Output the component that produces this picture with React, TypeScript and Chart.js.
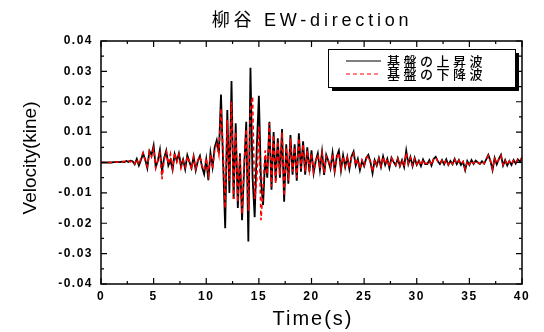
import React, { useEffect, useRef } from 'react';
import { Chart, registerables } from 'chart.js';

Chart.register(...registerables);

const TITLE = '柳谷 EW-direction';
const X_TITLE = 'Time(s)';
const Y_TITLE = 'Velocity(kine)';
const LEGEND_LABELS = ['基盤の上昇波', '基盤の下降波'];

const X_TICKS = [0, 5, 10, 15, 20, 25, 30, 35, 40];
const Y_TICKS = [-0.04, -0.03, -0.02, -0.01, 0, 0.01, 0.02, 0.03, 0.04];
const Y_TICK_LABELS = ['-0.04', '-0.03', '-0.02', '-0.01', '0.00', '0.01', '0.02', '0.03', '0.04'];

// sampling step of the digitised records (s); values are in 1/1000 kine
const DT = 0.2;
const UNIT = 0.001;

// 基盤の上昇波 (black, solid)
const UPWARD = [
  0, 0, 0, 0, 0,
  0, 0.1, 0.1, 0.2, 0.1,
  0.3, 0.1, 0.5, 0.2, 0.6,
  0.4, -0.6, 1.2, -1.0, 0.8,
  3.0, 1.0, -1.8, 3.8, 2.5,
  5.6, -1.5, 0.5, 4.2, -2.8,
  1.5, 3.9, -1.0, 0.8, -2.4,
  2.8, 0.5, 3.0, -1.2, 1.0,
  -2.2, 2.4, 0.2, -1.8, 2.0,
  -2.6, 0.5, 2.2, -1.5, -3.8,
  1.0, -5.8, 3.2, -1.5, 5.0,
  7.4, 3.0, 22.4, 0, -21.6,
  17.3, -10, 26.8, -12, 12.9,
  -15, 3, -19, -2, 13.4,
  -26, 31.2, -5, -18, 5,
  22, -6, -14, 2, -5,
  13.4, -9, 10, -6, 8,
  -5, 11, -12.9, 6, -7,
  9, -4, 6, -6, 9.6,
  -3, 7, -4, 5, -3,
  4, -3.5, 0.5, 3.0, -2.5,
  3.5, -4.1, 2.5, 0.5, -2.0,
  3.2, -3.0, 2.0, 3.9, -2.6,
  2.4, -1.5, 1.8, -2.2, 2.0,
  3.6, -1.0, 1.2, -2.5, 0.5,
  -1.2, 1.5, 2.5, 0.2, -3.5,
  0.8, -1.0, 1.5, -1.5, 2.0,
  -0.8, 1.2, -1.8, 1.6, 0.2,
  -1.0, 1.4, -1.2, 0.8, -1.5,
  3.9, -0.5, 1.8, -1.2, 1.5,
  -0.8, 0.6, -1.2, 1.0, -0.5,
  -0.5, 0.8, -1.0, 1.2, 1.9,
  0.4, -0.5, 0.8, -0.6, 1.0,
  -0.8, 0.5, -0.6, 1.2, -0.5,
  0.8, -0.8, 0.2, -2.5, 0.5,
  -0.8, 0.8, -0.5, 0.6, 0.0,
  -0.5, 0.4, -0.4, 1.0, 2.5,
  0.6, -2.5, 1.5, -0.6, 1.2,
  2.5, -1.0, 0.8, -1.0, 0.5,
  -0.8, 0.8, -0.4, 1.0, 0.2,
  1.5,
];

// 基盤の下降波 (red, dashed)
const DOWNWARD = [
  0, 0, 0, 0, 0,
  0, 0.1, 0.2, 0.1, 0.3,
  0.2, 0.4, 0.3, 0.6, 0.2,
  0.6, -0.4, 1.0, -0.6, 1.4,
  3.2, 0.5, -1.2, 3.5, 1.8,
  4.6, -1.8, 0.8, 3.0, -5.5,
  1.0, 3.5, -0.5, 2.8, -2.0,
  3.2, 0.2, 2.6, -1.8, 0.6,
  -1.5, 2.0, 0.5, -2.2, 1.8,
  -2.0, 0.8, 2.0, -1.2, -2.5,
  1.5, -4.0, 2.5, -2.0, 4.0,
  6.0, 2.5, 17.8, 4.0, -15,
  14, -6, 20, -12, 10,
  -13, 2, -17, 0, 11,
  -16, 18, 21.6, -12, -6,
  12, -19, -8, 4, -4,
  13, -8, 9, -7, 7,
  -4, 10, -11, 5, -6,
  8, -3, 5, -5, 8,
  -2, 6, -3, 4, -2.5,
  3, -3, 0.6, 2.5, -2,
  3, -3.5, 2, 0.6, -1.5,
  2.8, -2.5, 1.5, 3.2, -2,
  2, -1.2, 1.5, -1.8, 1.8,
  3, -0.8, 1, -2, 0.8,
  -1, 1.2, 2.2, 0, -3,
  1, -0.8, 1.2, -1.2, 1.8,
  -0.5, 1, -1.5, 1.4, 0.3,
  -0.8, 1.2, -1, 1, -1.2,
  3.2, -0.3, 1.5, -1, 1.2,
  -0.6, 0.8, -1, 0.8, -0.3,
  -0.3, 0.6, -0.8, 1, 1.6,
  0.5, -0.3, 0.6, -0.5, 0.8,
  -0.6, 0.4, -0.5, 1, -0.4,
  0.6, -0.6, 0.3, -2.2, 0.4,
  -0.6, 0.6, -0.3, 0.5, 0.1,
  -0.4, 0.3, -0.3, 0.8, 2.2,
  0.5, -2.2, 1.2, -0.4, 1,
  2.2, -0.8, 0.6, -0.8, 0.4,
  -0.6, 0.6, -0.3, 0.8, 0.4,
  1.8,
];

const LATIN = '"Liberation Sans", Arial, "Noto Sans CJK JP", sans-serif';
const CJK = '"Noto Sans CJK JP", "Liberation Sans", sans-serif';

const toPoints = (vals: number[]) => vals.map((v, i) => ({ x: i * DT, y: v * UNIT }));

const framePlugin = {
  id: 'frame',
  beforeDraw(chart: any) {
    (chart.ctx as any).letterSpacing = '1.5px';
  },
  afterDraw(chart: any) {
    const { ctx, chartArea: a, scales } = chart;
    const xs = scales.x;
    const ys = scales.y;
    ctx.save();
    (ctx as any).letterSpacing = '0px';
    ctx.strokeStyle = '#000';
    ctx.lineWidth = 1.5;
    ctx.strokeRect(a.left, a.top, a.right - a.left, a.bottom - a.top);

    ctx.lineWidth = 1.2;
    ctx.beginPath();
    const xv = xs.ticks.map((t: any) => t.value);
    xv.forEach((v: number, i: number) => {
      const px = xs.getPixelForValue(v);
      ctx.moveTo(px, a.bottom); ctx.lineTo(px, a.bottom - 6);
      ctx.moveTo(px, a.top); ctx.lineTo(px, a.top + 6);
      if (i < xv.length - 1) {
        const pm = (px + xs.getPixelForValue(xv[i + 1])) / 2;
        ctx.moveTo(pm, a.bottom); ctx.lineTo(pm, a.bottom - 3);
        ctx.moveTo(pm, a.top); ctx.lineTo(pm, a.top + 3);
      }
    });
    const yv = ys.ticks.map((t: any) => t.value);
    yv.forEach((v: number, i: number) => {
      const py = ys.getPixelForValue(v);
      ctx.moveTo(a.left, py); ctx.lineTo(a.left + 6, py);
      ctx.moveTo(a.right, py); ctx.lineTo(a.right - 6, py);
      if (i < yv.length - 1) {
        const pm = (py + ys.getPixelForValue(yv[i + 1])) / 2;
        ctx.moveTo(a.left, pm); ctx.lineTo(a.left + 3, pm);
        ctx.moveTo(a.right, pm); ctx.lineTo(a.right - 3, pm);
      }
    });
    ctx.stroke();

    // title
    ctx.fillStyle = '#000';
    ctx.textBaseline = 'middle';
    ctx.textAlign = 'center';
    (ctx as any).letterSpacing = '3.8px';
    ctx.font = `18px ${LATIN}`;
    ctx.fillText(TITLE, 312, 21);

    // x title
    (ctx as any).letterSpacing = '2px';
    ctx.font = `20px ${LATIN}`;
    ctx.fillText(X_TITLE, 313, 319);

    // y title
    (ctx as any).letterSpacing = '0px';
    ctx.save();
    ctx.translate(31, 158);
    ctx.rotate(-Math.PI / 2);
    ctx.font = `19px ${LATIN}`;
    ctx.fillText(Y_TITLE, 0, 0);
    ctx.restore();

    // legend box with drop shadow
    const lx = 328, ly = 49, lw = 187, lh = 38;
    ctx.fillStyle = '#000';
    ctx.fillRect(lx + 4, ly + 4, lw, lh);
    ctx.fillStyle = '#fff';
    ctx.fillRect(lx, ly, lw, lh);
    ctx.lineWidth = 1;
    ctx.strokeStyle = '#000';
    ctx.strokeRect(lx + 0.5, ly + 0.5, lw, lh);

    const rows = [
      { y: 61, color: '#000', dash: [] as number[] },
      { y: 74, color: '#ff0000', dash: [4, 3] },
    ];
    rows.forEach((r, i) => {
      ctx.beginPath();
      ctx.setLineDash(r.dash);
      ctx.strokeStyle = r.color;
      ctx.lineWidth = 1.2;
      ctx.moveTo(346, r.y);
      ctx.lineTo(381, r.y);
      ctx.stroke();
      ctx.setLineDash([]);
      ctx.fillStyle = '#000';
      ctx.textAlign = 'left';
      (ctx as any).letterSpacing = '3.5px';
      ctx.font = `500 13px ${CJK}`;
      ctx.fillText(LEGEND_LABELS[i], 387, r.y);
    });
    ctx.restore();
    (ctx as any).letterSpacing = '0px';
  },
};

export default function App() {
  const ref = useRef<HTMLCanvasElement>(null);
  useEffect(() => {
    const tickFont = { family: LATIN, size: 12, weight: 'bold' as const };
    const chart = new Chart(ref.current!, {
      type: 'line',
      data: {
        datasets: [
          {
            label: LEGEND_LABELS[1],
            data: toPoints(DOWNWARD),
            borderColor: '#ff0000',
            borderWidth: 1.6,
            borderDash: [4, 3],
            pointRadius: 0,
            fill: false,
            tension: 0,
          },
          {
            label: LEGEND_LABELS[0],
            data: toPoints(UPWARD),
            borderColor: '#000000',
            borderWidth: 1.8,
            pointRadius: 0,
            fill: false,
            tension: 0,
          },
        ],
      },
      options: {
        animation: false,
        responsive: false,
        devicePixelRatio: 1,
        layout: { padding: { top: 41, right: 22, left: 0, bottom: 0 } },
        plugins: { legend: { display: false }, tooltip: { enabled: false }, title: { display: false } },
        scales: {
          x: {
            type: 'linear',
            min: 0,
            max: 40,
            afterBuildTicks: (s: any) => { s.ticks = X_TICKS.map((v) => ({ value: v })); },
            afterFit: (s: any) => { s.height = 48; },
            ticks: { font: tickFont, color: '#000', padding: 5, maxRotation: 0, autoSkip: false },
            grid: { display: false, drawTicks: false },
            border: { display: false },
          },
          y: {
            type: 'linear',
            min: -0.04,
            max: 0.04,
            afterBuildTicks: (s: any) => { s.ticks = Y_TICKS.map((v) => ({ value: v })); },
            afterFit: (s: any) => { s.width = 101; },
            ticks: {
              font: tickFont,
              color: '#000',
              padding: 8,
              autoSkip: false,
              callback: (_v: any, i: number) => Y_TICK_LABELS[i],
            },
            grid: { display: false, drawTicks: false },
            border: { display: false },
          },
        },
      },
      plugins: [framePlugin],
    });
    return () => chart.destroy();
  }, []);
  return (
    <div style={{ position: 'fixed', left: 0, top: 0, width: 544, height: 332, background: '#fff' }}>
      <canvas ref={ref} width={544} height={332} style={{ display: 'block', width: 544, height: 332 }} />
    </div>
  );
}
